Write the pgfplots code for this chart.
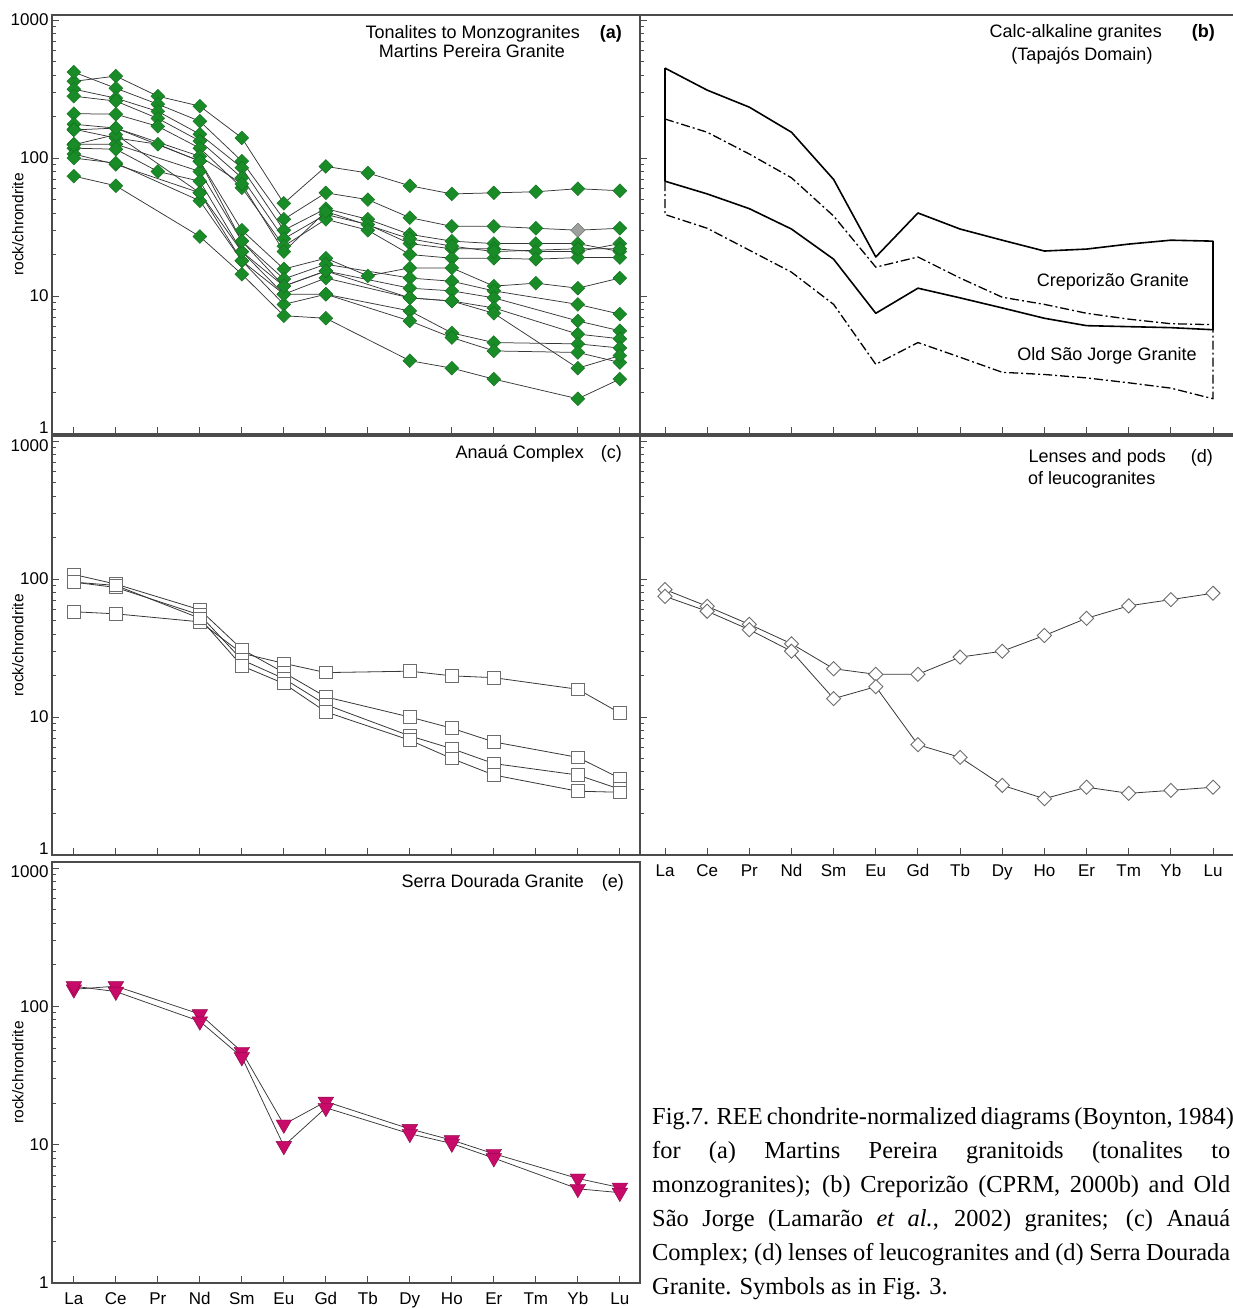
\documentclass[border=0pt]{standalone}
\usepackage{pgfplots}
\pgfplotsset{compat=1.18}
\usepackage{fontspec}
\setmainfont{Liberation Sans}
\newfontfamily\capfont{Liberation Serif}
\definecolor{grn}{RGB}{25,140,40}
\definecolor{mag}{RGB}{200,10,105}
\definecolor{frm}{RGB}{75,75,75}
\definecolor{ln}{RGB}{55,55,55}
\newcommand{\tkf}{\fontsize{17}{20}\selectfont}
\newcommand{\ttlf}{\fontsize{18}{21}\selectfont}
\newcommand{\cpf}{\capfont\fontsize{24.4}{34}\selectfont}
\newcommand{\ylf}{\fontsize{15.5}{18}\selectfont}
\newcommand{\yone}{\raisebox{6pt}[\height][\depth]{1}}
\newcommand{\ythou}{\raisebox{-4pt}[\height][\depth]{1000}}
\pgfplotsset{
  tick align=inside,
  major tick length=7pt, minor tick length=4pt,
  tick style={color=frm, line width=0.9pt},
  axis line style={color=frm, line width=1.3pt},
  tick label style={font=\tkf},
}
\tikzset{
  ga/.style={color=ln, line width=0.75pt, mark=square*, mark size=4.9pt,
    mark options={rotate=45, fill=grn, draw=grn!80!black, line width=0.4pt}},
  sq/.style={color=ln, line width=0.8pt, mark=square*, mark size=6.3pt,
    mark options={fill=white, draw=gray!85!black, line width=0.9pt}},
  dm/.style={color=ln, line width=0.8pt, mark=square*, mark size=5.0pt,
    mark options={rotate=45, fill=white, draw=gray!85!black, line width=0.9pt}},
  tr/.style={color=ln, line width=0.75pt, mark=triangle*, mark size=9pt,
    mark options={rotate=180, fill=mag, draw=mag!70!black, line width=0.4pt}},
}
\begin{document}
\begin{tikzpicture}
\path[use as bounding box] (0pt,0pt) rectangle (1232pt,1309pt);
% ---------------- (a)
\begin{axis}[scale only axis, anchor=south west, at={(52pt,875pt)}, width=588pt, height=419pt,
  ymode=log, ymin=1, ymax=1090, xmin=-0.52, xmax=13.48,
  xtick={0,1,2,3,4,5,6,7,8,9,10,11,12,13}, xticklabels={},
  ytick={1,10,100,1000}, yticklabels={\yone,10,100,1000},
  minor ytick={2,3,4,5,6,7,8,9,20,30,40,50,60,70,80,90,200,300,400,500,600,700,800,900},
  xtick pos=bottom, ytick pos=left,
  ylabel={rock/chrondrite},
  ylabel style={font=\ylf, at={(axis description cs:-0.058,0.5)}, anchor=center}]
\addplot[ga] coordinates {(0,360)(1,393)(2,281)(3,238)(4,140)(5,47)(6,87)(7,78)(8,63)(9,55)(10,56)(11,57)(12,60)(13,58)};
\addplot[ga] coordinates {(0,420)(1,321)(2,246)(3,185)(4,95)(5,36)(6,56)(7,50)(8,37)(9,32)(10,32)(11,31)(12,30)(13,31)};
\addplot[ga] coordinates {(0,316)(1,272)(2,218)(3,149)(4,85)(5,30)(6,43)(7,36)(8,28)(9,25)(10,24)(11,24)(12,24)(13,21)};
\addplot[ga] coordinates {(0,281)(1,259)(2,194)(3,133)(4,72)(5,26)(6,39)(7,33)(8,24)(9,22)(10,22)(11,21)(12,21)(13,24)};
\addplot[ga] coordinates {(0,210)(1,208)(2,170)(3,118)(4,61)(5,23)(6,36)(7,30)(8,20)(9,18.8)(10,18.8)(11,18.5)(12,19)(13,19)};
\addplot[ga] coordinates {(0,176)(1,165)(3,103)(4,65)(5,21)(6,41)(8,26)(9,23)(10,21)(12,22)(13,22)};
\addplot[ga] coordinates {(0,162)(1,140)(2,126)(3,95)(4,30)(5,15.7)(6,18.8)(7,14)(8,16)(9,16)(10,11.8)(11,12.4)(12,11.4)(13,13.5)};
\addplot[ga] coordinates {(0,126)(1,126)(3,80)(4,25)(5,13.3)(6,17)(8,13.5)(9,12.8)(10,10.9)(12,8.7)(13,7.4)};
\addplot[ga] coordinates {(0,118)(1,116)(2,80)(3,68)(4,21)(5,11.8)(6,15.2)(8,11.4)(9,10.9)(10,9.7)(12,6.6)(13,5.6)};
\addplot[ga] coordinates {(0,107)(1,90)(3,56)(4,18)(5,10.3)(6,13.5)(8,9.7)(9,9.2)(10,8.2)(12,5.3)(13,4.9)};
\addplot[ga] coordinates {(0,100)(1,92)(3,49)(4,18)(5,8.7)(6,10.3)(8,7.8)(9,5.4)(10,4.6)(12,4.5)(13,4.2)};
\addplot[ga] coordinates {(0,74)(1,63)(3,27)(4,14.4)(5,7.2)(6,6.9)(8,3.4)(9,3.0)(10,2.5)(12,1.8)(13,2.5)};
\addplot[ga] coordinates {(0,125)(1,148)(3,56)(4,21)(5,10.3)(6,10.3)(8,6.6)(9,5.0)(10,4.0)(12,3.9)(13,3.3)};
\addplot[ga] coordinates {(0,160)(1,165)(3,95)(4,25)(5,11.8)(6,15.2)(8,9.7)(9,9.2)(10,7.5)(12,3.0)(13,3.7)};
\addplot[only marks, mark=square*, mark size=4.9pt, mark options={rotate=45, fill=gray!75, draw=gray}] coordinates {(12,30)};
\end{axis}
% ---------------- (b)
\begin{axis}[scale only axis, anchor=south west, at={(640pt,875pt)}, width=600pt, height=419pt,
  ymode=log, ymin=1, ymax=1090, xmin=-0.593, xmax=13.64,
  xtick={0,1,2,3,4,5,6,7,8,9,10,11,12,13}, xticklabels={},
  ytick={1,10,100,1000}, yticklabels={},
  minor ytick={2,3,4,5,6,7,8,9,20,30,40,50,60,70,80,90,200,300,400,500,600,700,800,900},
  xtick pos=bottom, ytick pos=left]
\addplot[black, line width=1.6pt, mark=none, line join=round] coordinates {(0,449)(1,311)(2,234)(3,154)(4,70)(5,19.2)(6,40)(7,30.6)(8,25.4)(9,21.2)(10,21.9)(11,23.8)(12,25.4)(13,25)
  (13,5.7)(12,5.9)(11,6.0)(10,6.1)(9,6.9)(8,8.2)(7,9.7)(6,11.4)(5,7.5)(4,18.5)(3,30.6)(2,43)(1,55)(0,68)(0,449)};
\addplot[black, line width=1.3pt, mark=none, line join=round, dash pattern=on 9pt off 3pt on 2pt off 3pt] coordinates {(0,192)(1,154)(2,107)(3,72)(4,38)(5,16.2)(6,19.2)(7,13.5)(8,9.8)(9,8.7)(10,7.5)(11,6.8)(12,6.3)(13,6.2)
  (13,1.8)(12,2.15)(11,2.35)(10,2.55)(9,2.7)(8,2.8)(7,3.6)(6,4.6)(5,3.2)(4,8.7)(3,14.9)(2,21.5)(1,31)(0,39)(0,192)};
\end{axis}
% ---------------- (c)
\begin{axis}[scale only axis, anchor=south west, at={(52pt,454pt)}, width=588pt, height=419pt,
  ymode=log, ymin=1, ymax=1090, xmin=-0.52, xmax=13.48,
  xtick={0,1,2,3,4,5,6,7,8,9,10,11,12,13}, xticklabels={},
  ytick={1,10,100,1000}, yticklabels={\yone,10,100,\ythou},
  minor ytick={2,3,4,5,6,7,8,9,20,30,40,50,60,70,80,90,200,300,400,500,600,700,800,900},
  xtick pos=bottom, ytick pos=left,
  ylabel={rock/chrondrite},
  ylabel style={font=\ylf, at={(axis description cs:-0.058,0.5)}, anchor=center}]
\addplot[sq] coordinates {(0,58)(1,56)(3,49)(4,29)(5,24.5)(6,21)(8,21.5)(9,19.9)(10,19.3)(12,15.9)(13,10.7)};
\addplot[sq] coordinates {(0,108)(1,92)(3,60)(4,31)(5,21)(6,14)(8,10)(9,8.3)(10,6.6)(12,5.1)(13,3.6)};
\addplot[sq] coordinates {(0,95)(1,87)(3,55)(4,26)(5,19)(6,12.3)(8,7.3)(9,5.9)(10,4.6)(12,3.8)(13,3.0)};
\addplot[sq] coordinates {(0,95)(1,90)(3,52)(4,23.5)(5,17.5)(6,10.9)(8,6.8)(9,5.0)(10,3.8)(12,2.9)(13,2.85)};
\end{axis}
% ---------------- (d)
\begin{axis}[scale only axis, anchor=south west, at={(640pt,454pt)}, width=600pt, height=419pt,
  ymode=log, ymin=1, ymax=1090, xmin=-0.593, xmax=13.64,
  xtick={0,1,2,3,4,5,6,7,8,9,10,11,12,13},
  xticklabels={La,Ce,Pr,Nd,Sm,Eu,Gd,Tb,Dy,Ho,Er,Tm,Yb,Lu}, xticklabel style={yshift=-6pt},
  ytick={1,10,100,1000}, yticklabels={},
  minor ytick={2,3,4,5,6,7,8,9,20,30,40,50,60,70,80,90,200,300,400,500,600,700,800,900},
  xtick pos=bottom, ytick pos=left]
\addplot[dm] coordinates {(0,84)(1,63.5)(2,47)(3,34)(4,22.4)(5,20.4)(6,20.4)(7,27.2)(8,30)(9,39)(10,52)(11,64)(12,71)(13,79)};
\addplot[dm] coordinates {(0,75)(1,58.5)(2,43)(3,30)(4,13.6)(5,16.6)(6,6.3)(7,5.1)(8,3.2)(9,2.56)(10,3.1)(11,2.8)(12,2.94)(13,3.1)};
\end{axis}
% ---------------- (e)
\begin{axis}[scale only axis, anchor=south west, at={(52pt,26pt)}, width=588pt, height=421pt,
  ymode=log, ymin=1, ymax=1107, xmin=-0.52, xmax=13.48,
  xtick={0,1,2,3,4,5,6,7,8,9,10,11,12,13},
  xticklabels={La,Ce,Pr,Nd,Sm,Eu,Gd,Tb,Dy,Ho,Er,Tm,Yb,Lu}, xticklabel style={yshift=-6pt},
  ytick={1,10,100,1000}, yticklabels={1,10,100,\ythou},
  minor ytick={2,3,4,5,6,7,8,9,20,30,40,50,60,70,80,90,200,300,400,500,600,700,800,900},
  xtick pos=bottom, ytick pos=left,
  ylabel={rock/chrondrite},
  ylabel style={font=\ylf, at={(axis description cs:-0.058,0.5)}, anchor=center}]
\addplot[tr] coordinates {(0,133)(1,140)(3,88)(4,47)(5,14)(6,20.5)(8,13)(9,10.8)(10,8.6)(12,5.7)(13,4.9)};
\addplot[tr] coordinates {(0,140)(1,128)(3,78)(4,43)(5,9.8)(6,18.5)(8,12)(9,10.2)(10,8)(12,4.8)(13,4.5)};
\end{axis}
% ---------------- panel texts
\node[anchor=base east, font=\ttlf, inner sep=0pt] at (580pt,1270pt) {Tonalites to Monzogranites};
\node[anchor=base east, font=\ttlf\bfseries, inner sep=0pt] at (622pt,1270pt) {(a)};
\node[anchor=base, font=\ttlf, inner sep=0pt] at (472pt,1251pt) {Martins Pereira Granite};
\node[anchor=base east, font=\ttlf, inner sep=0pt] at (1162pt,1271pt) {Calc-alkaline granites};
\node[anchor=base east, font=\ttlf\bfseries, inner sep=0pt] at (1215pt,1271pt) {(b)};
\node[anchor=base, font=\ttlf, inner sep=0pt] at (1082pt,1248pt) {(Tapajós Domain)};
\node[anchor=base, font=\ttlf, inner sep=0pt] at (1113pt,1022pt) {Creporizão Granite};
\node[anchor=base, font=\ttlf, inner sep=0pt] at (1107pt,948pt) {Old São Jorge Granite};
\node[anchor=base east, font=\ttlf, inner sep=0pt] at (584pt,850pt) {Anauá Complex};
\node[anchor=base east, font=\ttlf, inner sep=0pt] at (622pt,850pt) {(c)};
\node[anchor=base east, font=\ttlf, inner sep=0pt] at (1166pt,846pt) {Lenses and pods};
\node[anchor=base east, font=\ttlf, inner sep=0pt] at (1213pt,846pt) {(d)};
\node[anchor=base west, font=\ttlf, inner sep=0pt] at (1028pt,824pt) {of leucogranites};
\node[anchor=base east, font=\ttlf, inner sep=0pt] at (584pt,421pt) {Serra Dourada Granite};
\node[anchor=base east, font=\ttlf, inner sep=0pt] at (624pt,421pt) {(e)};
% ---------------- caption
\node[anchor=base west, font=\cpf, inner sep=0pt] at (652pt,184pt) {\makebox[578pt][s]{Fig.7. REE chondrite-normalized diagrams (Boynton, 1984)}};
\node[anchor=base west, font=\cpf, inner sep=0pt] at (652pt,150pt) {\makebox[578pt][s]{for (a) Martins Pereira granitoids (tonalites to}};
\node[anchor=base west, font=\cpf, inner sep=0pt] at (652pt,116pt) {\makebox[578pt][s]{monzogranites); (b) Creporizão (CPRM, 2000b) and Old}};
\node[anchor=base west, font=\cpf, inner sep=0pt] at (652pt,82pt) {\makebox[578pt][s]{São Jorge (Lamarão \textit{et al.}, 2002) granites; (c) Anauá}};
\node[anchor=base west, font=\cpf, inner sep=0pt] at (652pt,48pt) {\makebox[578pt][s]{Complex; (d) lenses of leucogranites and (d) Serra Dourada}};
\node[anchor=base west, font=\cpf, inner sep=0pt] at (652pt,14pt) {Granite. Symbols as in Fig. 3.};
\end{tikzpicture}
\end{document}
